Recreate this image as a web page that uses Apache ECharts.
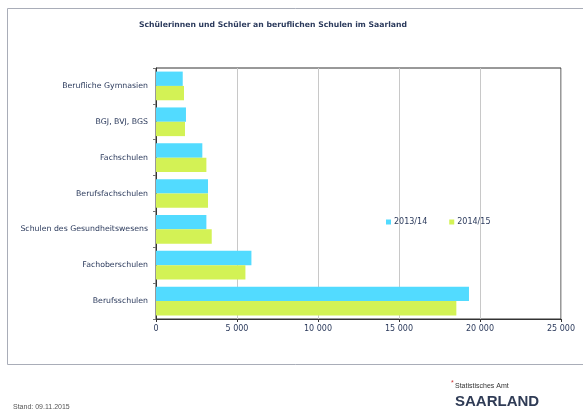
<!DOCTYPE html>
<html>
<head>
<meta charset="utf-8">
<script src="https://cdn.jsdelivr.net/npm/echarts@6/dist/echarts.min.js"></script>
<style>html,body{margin:0;padding:0;background:#fff;}#c{width:583px;height:414px;}</style>
</head>
<body>
<div id="c"></div>
<script>
var categories = ['Berufliche Gymnasien', 'BGJ, BVJ, BGS', 'Fachschulen', 'Berufsfachschulen', 'Schulen des Gesundheitswesens', 'Fachoberschulen', 'Berufsschulen'];
var seriesNames = ['2013/14', '2014/15'];
var values1314 = [1650, 1850, 2860, 3210, 3110, 5890, 19320];
var values1415 = [1730, 1790, 3110, 3210, 3440, 5520, 18540];
var titleText = 'Schülerinnen und Schüler an beruflichen Schulen im Saarland';
var standText = 'Stand: 09.11.2015';

var chart = echarts.init(document.getElementById('c'));
var txt = '#2b3a5c';
var font = 'DejaVu Sans';
chart.setOption({
  animation: false,
  textStyle: {fontFamily: font},
  title: {
    text: titleText, left: 268, top: 16, textAlign: 'center',
    textStyle: {fontSize: 7.7, fontWeight: 'bold', color: txt, fontFamily: font}
  },
  legend: {
    left: 381, top: 213, itemWidth: 5, itemHeight: 5, itemGap: 22, icon: 'rect',
    textStyle: {fontSize: 8, color: txt, padding: [0, 0, 0, -2], fontFamily: font},
    data: seriesNames
  },
  grid: {left: 156, right: 22, top: 68, bottom: 95, show: true, borderColor: '#333', borderWidth: 1},
  xAxis: {
    type: 'value', min: 0, max: 25000, interval: 5000,
    axisLine: {show: true, lineStyle: {color: '#333'}},
    axisTick: {show: true, length: 3, lineStyle: {color: '#333'}},
    splitLine: {lineStyle: {color: '#c8c8c8'}},
    axisLabel: {fontSize: 8, color: txt, margin: 6, fontFamily: font,
      formatter: function (v) { return String(v).replace(/\B(?=(\d{3})+(?!\d))/g, ' '); }}
  },
  yAxis: {
    type: 'category', data: categories, inverse: true,
    axisLine: {show: true, lineStyle: {color: '#333'}},
    axisTick: {show: true, length: 3, lineStyle: {color: '#777'}},
    axisLabel: {fontSize: 7.8, color: txt, margin: 8, fontFamily: font}
  },
  series: [
    {name: seriesNames[0], type: 'bar', data: values1314, barGap: '0%', barCategoryGap: '20%',
     itemStyle: {color: '#52dbff'}},
    {name: seriesNames[1], type: 'bar', data: values1415, barGap: '0%', barCategoryGap: '20%',
     itemStyle: {color: '#d3f255'}}
  ],
  graphic: [
    {type: 'rect', silent: true, z: -1, shape: {x: 7.5, y: 8.5, width: 620, height: 356},
     style: {fill: 'none', stroke: '#a9adb8', lineWidth: 1}},
    {type: 'text', left: 13, top: 404, style: {text: standText, fontSize: 7, fill: '#555', fontFamily: 'Liberation Sans'}},
    {type: 'text', left: 455, top: 383, style: {text: 'Statistisches Amt', fontSize: 7, fill: '#333', fontFamily: 'Liberation Sans'}},
    {type: 'text', left: 451, top: 380, style: {text: '*', fontSize: 7, fill: '#c33', fontFamily: 'Liberation Sans'}},
    {type: 'text', left: 455, top: 394, style: {text: 'SAARLAND', fontSize: 15, fontWeight: 'bold', fill: '#2f3b55', fontFamily: 'Liberation Sans'}}
  ]
});
</script>
</body>
</html>
